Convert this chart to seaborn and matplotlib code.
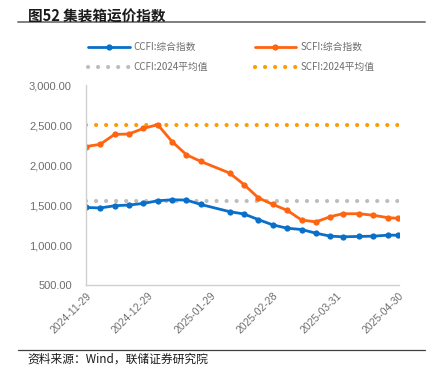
import numpy as np
import pandas as pd
import matplotlib
matplotlib.use("Agg")
import matplotlib.pyplot as plt
import matplotlib.dates as mdates
from matplotlib.lines import Line2D
import seaborn as sns

# ── DATA ─────────────────────────────────────────────────────
dates = ["2024-11-29", "2024-12-06", "2024-12-13", "2024-12-20", "2024-12-27",
         "2025-01-03", "2025-01-10", "2025-01-17", "2025-01-24", "2025-02-07",
         "2025-02-14", "2025-02-21", "2025-02-28", "2025-03-07", "2025-03-14",
         "2025-03-21", "2025-03-28", "2025-04-03", "2025-04-11", "2025-04-18",
         "2025-04-25", "2025-04-30"]
ccfi = [1470, 1463, 1491, 1500, 1520, 1553, 1566, 1562, 1507, 1417, 1388,
        1318, 1252, 1210, 1194, 1148, 1111, 1103, 1107, 1111, 1123, 1123]
scfi = [2231, 2259, 2383, 2388, 2458, 2505, 2293, 2128, 2045, 1900, 1756,
        1590, 1508, 1434, 1313, 1289, 1354, 1391, 1391, 1372, 1342, 1334]
ccfi_avg_2024 = 1552
scfi_avg_2024 = 2506

tick_dates = ["2024-11-29", "2024-12-29", "2025-01-29",
              "2025-02-28", "2025-03-31", "2025-04-30"]
y_ticks = [500, 1000, 1500, 2000, 2500, 3000]

labels = ["CCFI:综合指数", "CCFI:2024平均值", "SCFI:综合指数", "SCFI:2024平均值"]

# ── STYLE ────────────────────────────────────────────────────
sns.set_theme(style="white")
plt.rcParams["font.family"] = ["Liberation Sans", "Noto Sans CJK SC", "DejaVu Sans"]

BLUE = "#0A6FC9"
ORANGE = "#FF6410"
ORANGE_DOT = "#FF9A00"
GRAY_DOT = "#BDBDBD"
TXT = "#6E6E6E"

df = pd.DataFrame({"date": pd.to_datetime(dates), "ccfi": ccfi, "scfi": scfi})
avg_df = pd.DataFrame({
    "date": pd.to_datetime([dates[0], dates[-1]]),
    "ccfi_avg": [ccfi_avg_2024] * 2,
    "scfi_avg": [scfi_avg_2024] * 2,
})

fig = plt.figure(figsize=(4.4, 3.78), dpi=100)
ax = fig.add_axes([0.195, 0.246, 0.712, 0.529])

dot_style = dict(linestyle=(0, (0.01, 2.4)), dash_capstyle="round", linewidth=3.0)
sns.lineplot(data=avg_df, x="date", y="ccfi_avg", ax=ax, color=GRAY_DOT, **dot_style)
sns.lineplot(data=avg_df, x="date", y="scfi_avg", ax=ax, color=ORANGE_DOT, **dot_style)
sns.lineplot(data=df, x="date", y="ccfi", ax=ax, color=BLUE, linewidth=2.0,
             marker="o", markersize=4.5, markeredgewidth=0)
sns.lineplot(data=df, x="date", y="scfi", ax=ax, color=ORANGE, linewidth=2.0,
             marker="o", markersize=4.5, markeredgewidth=0)

# ── AXES ─────────────────────────────────────────────────────
ax.set_xlim(pd.Timestamp(dates[0]), pd.Timestamp(dates[-1]) + pd.Timedelta(days=0.5))
ax.set_ylim(500, 3000)
ax.set_yticks(y_ticks)
ax.set_yticklabels([f"{v:,.2f}" for v in y_ticks], fontsize=8, color=TXT)
ax.set_xticks(pd.to_datetime(tick_dates))
ax.xaxis.set_major_formatter(mdates.DateFormatter("%Y-%m-%d"))
for lab in ax.get_xticklabels():
    lab.set_rotation(45)
    lab.set_ha("right")
    lab.set_rotation_mode("anchor")
    lab.set_fontsize(7.5)
    lab.set_color(TXT)
ax.tick_params(axis="x", direction="in", length=3, width=0.8, color="#C8C8C8", pad=4)
ax.tick_params(axis="y", length=0, pad=10)
ax.set_xlabel("")
ax.set_ylabel("")
for s in ["top", "right"]:
    ax.spines[s].set_visible(False)
for s in ["left", "bottom"]:
    ax.spines[s].set_color("#D0D0D0")
    ax.spines[s].set_linewidth(1.0)

# ── LEGEND ───────────────────────────────────────────────────
handles = [
    Line2D([], [], color=BLUE, lw=2.0, marker="o", markersize=4.5, markeredgewidth=0),
    Line2D([], [], color=GRAY_DOT, **dot_style),
    Line2D([], [], color=ORANGE, lw=2.0, marker="o", markersize=4.5, markeredgewidth=0),
    Line2D([], [], color=ORANGE_DOT, **dot_style),
]
leg = fig.legend(handles, labels, loc="center", bbox_to_anchor=(0.525, 0.849),
                 ncol=2, frameon=False, fontsize=7, handlelength=4.3,
                 handletextpad=0.4, columnspacing=4.8, labelspacing=1.0,
                 prop={"family": ["Noto Sans CJK SC"], "size": 7})
for t in leg.get_texts():
    t.set_color(TXT)

# ── TITLE / SOURCE ───────────────────────────────────────────
fig.text(0.064, 0.977, "图52 集装箱运价指数", fontsize=10.5, fontweight="bold",
         family=["Noto Sans CJK SC"], va="top", ha="left", color="#1A1A1A")
fig.add_artist(Line2D([18 / 440, 425 / 440], [1 - 21.7 / 378] * 2,
                      color="#7F7F7F", lw=1.4))
fig.add_artist(Line2D([18 / 440, 425 / 440], [1 - 349.5 / 378] * 2,
                      color="#404040", lw=0.9))
fig.text(0.062, 1 - 359 / 378, "资料来源：Wind，联储证券研究院", fontsize=8.5,
         family=["Noto Sans CJK SC"], va="center", ha="left", color="#1A1A1A")

fig.savefig("out.png", dpi=100)
